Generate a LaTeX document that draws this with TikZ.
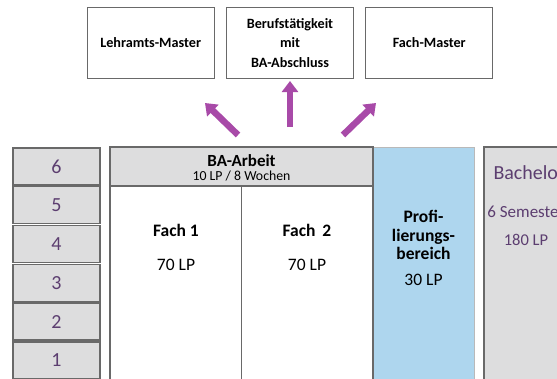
\documentclass[tikz,border=0pt]{standalone}
\usepackage{fontspec}
\setmainfont{Carlito}
\usepackage{tikz}
\usetikzlibrary{positioning, arrows.meta}
\usepackage{xcolor}
\definecolor{frameGray}{RGB}{105, 105, 105}
\definecolor{cellGray}{RGB}{221, 221, 222}
\definecolor{profBlue}{RGB}{174, 214, 238}
\definecolor{semPurple}{RGB}{92, 62, 112}
\definecolor{arrowPink}{RGB}{168, 74, 168}
\newcommand{\fs}[1]{\fontsize{#1}{1.2\dimexpr#1pt\relax}\selectfont}

\begin{document}
\begin{tikzpicture}[x=1pt, y=-1pt,
  goalbox/.style={draw=frameGray, line width=1.3pt, fill=white,
    minimum width=127pt, minimum height=71pt, inner sep=0pt,
    align=center, font=\fontsize{14.2}{19.5}\selectfont\bfseries},
  semcell/.style={draw=frameGray, line width=1.4pt, fill=cellGray,
    minimum width=87pt, minimum height=37pt, inner sep=0pt,
    text=semPurple, font=\fs{20}},
  pathway/.style={arrowPink, line width=6.5pt,
    -{Triangle[width=16pt, length=11pt]}}]
  \useasboundingbox (0,0) rectangle (557,378);
  \clip (0,0) rectangle (557,378);

  % --- Nach dem Bachelor ---
  \node[goalbox] (berufMA) at (290,43) {Berufstätigkeit\\mit\\BA-Abschluss};
  \node[goalbox, left=11pt of berufMA] (lehrMA) {Lehramts-Master};
  \node[goalbox, right=11pt of berufMA] (fachMA) {Fach-Master};

  % arrows (free ends)
  \coordinate (leftFrom) at (238,135);
  \coordinate (leftTo) at (205,103);
  \coordinate (midFrom) at (290,127);
  \coordinate (midTo) at (290,81);
  \coordinate (rightFrom) at (343,135);
  \coordinate (rightTo) at (376,103);
  \draw[pathway] (leftFrom) -- (leftTo);
  \draw[pathway] (midFrom) -- (midTo);
  \draw[pathway] (rightFrom) -- (rightTo);

  % --- Semester ---
  \foreach \s [count=\i from 0] in {6,5,4,3,2,1}
    \node[semcell] (sem\s) at (56.5,166.4+38.8*\i) {\s};

  % --- Studienbereiche ---
  \filldraw[fill=profBlue, draw=gray!55, line width=0.8pt] (373,147) rectangle (474,400);
  \draw[frameGray, line width=1.5pt, fill=white] (110,147) rectangle (373,400);
  \filldraw[fill=cellGray, draw=frameGray, line width=1.5pt] (110,147) rectangle (373,186);
  \draw[frameGray, line width=1.5pt] (241.5,186) -- (241.5,400);
  \filldraw[fill=cellGray, draw=frameGray, line width=1.5pt] (484,147) rectangle (640,400);

  \node[font=\fs{17}\bfseries] (baArbeit) at (241.5,161) {BA-Arbeit};
  \node[font=\fs{13.8}] (baUmfang) at (241.5,176) {10 LP / 8 Wochen};

  \node[font=\fs{17.5}\bfseries] (fach1) at (176,230) {Fach 1};
  \node[font=\fs{17.5}] (fach1LP) at (176,265) {70 LP};
  \node[font=\fs{17.5}\bfseries] (fach2) at (307,230) {Fach \,2};
  \node[font=\fs{17.5}] (fach2LP) at (307,265) {70 LP};

  \node[font=\fontsize{17.5}{18.5}\selectfont\bfseries, align=center] (profil) at (423.5,235)
    {Profi-\\lierungs-\\bereich};
  \node[font=\fs{17.5}] (profilLP) at (423.5,280) {30 LP};

  \node[anchor=west, text=semPurple, font=\fs{20}] (bachelor) at (490,173) {Bachelor};
  \node[text=semPurple, font=\fs{17}] (semester) at (526,212) {6 Semester};
  \node[text=semPurple, font=\fs{16.5}] (bachelorLP) at (526,240) {180 LP};
\end{tikzpicture}
\end{document}
